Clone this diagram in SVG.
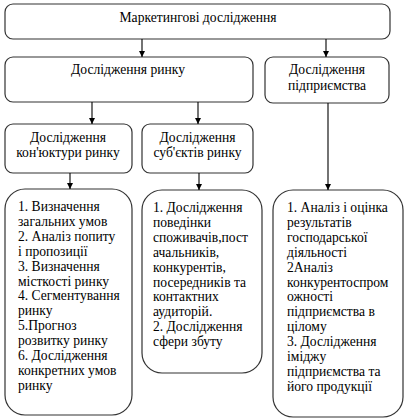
<svg xmlns="http://www.w3.org/2000/svg" width="405" height="420" viewBox="0 0 405 420">
<style>
.box{fill:#fff;stroke:#333;stroke-width:1.2}
text{font-family:'Liberation Serif','Times New Roman',serif;font-size:13.6px;fill:#000}
.c{text-anchor:middle}
.conn line{stroke:#000;stroke-width:1.1;marker-end:url(#ah)}
</style>
<defs>
<marker id="ah" viewBox="0 0 8 8" refX="8" refY="4" markerWidth="6" markerHeight="6" markerUnits="userSpaceOnUse" orient="auto">
<path d="M0,0 L8,4 L0,8 z" fill="#000"/>
</marker>
</defs>
<rect width="405" height="420" fill="#fff"/>
<g id="n-marketing">
<rect class="box" x="5" y="4" width="385" height="35" rx="8"/>
<text class="c" x="198" y="22">Маркетингові дослідження</text>
</g>
<g id="n-market">
<rect class="box" x="5" y="57" width="248" height="45" rx="8"/>
<text class="c" x="128" y="74">Дослідження ринку</text>
</g>
<g id="n-enterprise">
<rect class="box" x="265" y="57" width="124" height="46" rx="8"/>
<text class="c" x="327" y="74">Дослідження</text>
<text class="c" x="327" y="90">підприємства</text>
</g>
<g id="n-conjuncture">
<rect class="box" x="5" y="124" width="127" height="49" rx="8"/>
<text class="c" x="68" y="142">Дослідження</text>
<text class="c" x="68" y="157">кон'юктури ринку</text>
</g>
<g id="n-subjects">
<rect class="box" x="142" y="124" width="111" height="49" rx="8"/>
<text class="c" x="197.5" y="142">Дослідження</text>
<text class="c" x="197.5" y="157">суб'єктів ринку</text>
</g>
<g id="n-list1">
<rect class="box" x="5" y="189" width="127" height="226" rx="20"/>
<text x="18" y="211">1.  Визначення</text>
<text x="18" y="225.9">загальних умов</text>
<text x="18" y="240.8">2.  Аналіз попиту</text>
<text x="18" y="255.7">і пропозиції</text>
<text x="18" y="270.6">3.  Визначення</text>
<text x="18" y="285.5">місткості ринку</text>
<text x="18" y="300.4">4.  Сегментування</text>
<text x="18" y="315.3">ринку</text>
<text x="18" y="330.2">5.Прогноз</text>
<text x="18" y="345.1">розвитку ринку</text>
<text x="18" y="360">6. Дослідження</text>
<text x="18" y="374.9">конкретних умов</text>
<text x="18" y="389.8">ринку</text>
</g>
<g id="n-list2">
<rect class="box" x="142" y="190" width="120" height="183" rx="20"/>
<text x="153" y="212">1. Дослідження</text>
<text x="153" y="226.9">поведінки</text>
<text x="153" y="241.8">споживачів,пост</text>
<text x="153" y="256.7">ачальників,</text>
<text x="153" y="271.6">конкурентів,</text>
<text x="153" y="286.5">посередників та</text>
<text x="153" y="301.4">контактних</text>
<text x="153" y="316.3">аудиторій.</text>
<text x="153" y="331.2">2. Дослідження</text>
<text x="153" y="346.1">сфери збуту</text>
</g>
<g id="n-list3">
<rect class="box" x="273" y="190" width="130" height="227" rx="20"/>
<text x="287" y="212">1. Аналіз і оцінка</text>
<text x="287" y="226.9">результатів</text>
<text x="287" y="241.8">господарської</text>
<text x="287" y="256.7">діяльності</text>
<text x="287" y="271.6">2Аналіз</text>
<text x="287" y="286.5">конкурентоспром</text>
<text x="287" y="301.4">ожності</text>
<text x="287" y="316.3">підприємства в</text>
<text x="287" y="331.2">цілому</text>
<text x="287" y="346.1">3. Дослідження</text>
<text x="287" y="361">іміджу</text>
<text x="287" y="375.9">підприємства та</text>
<text x="287" y="390.8">його продукції</text>
</g>
<g id="connectors" class="conn">
<line x1="142" y1="39" x2="142" y2="57"/>
<line x1="326" y1="39" x2="326" y2="57"/>
<line x1="92" y1="102" x2="92" y2="124"/>
<line x1="198" y1="102" x2="198" y2="124"/>
<line x1="70" y1="173" x2="70" y2="189"/>
<line x1="199" y1="173" x2="199" y2="190"/>
<line x1="328" y1="103" x2="328" y2="190"/>
</g>
</svg>
